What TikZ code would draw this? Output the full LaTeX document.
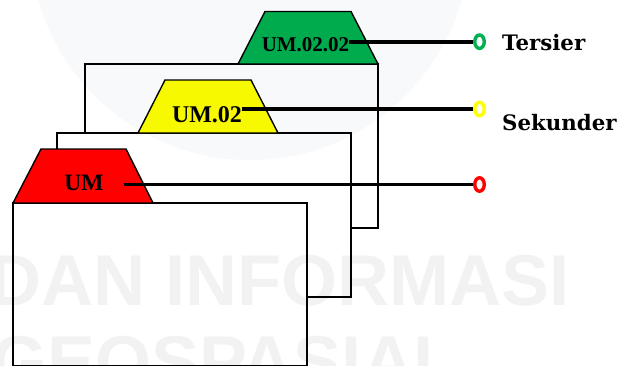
\documentclass[tikz,border=0pt]{standalone}
\usepackage{fontspec}
\usetikzlibrary{shapes.geometric}
\newfontfamily\tabfont{Liberation Serif}
\newfontfamily\sidefont{DejaVu Serif}
\newfontfamily\wordfont{Liberation Sans}
\definecolor{tabgreen}{RGB}{0,176,80}
\definecolor{tabyellow}{RGB}{255,255,0}
\definecolor{tabred}{RGB}{255,0,0}
\definecolor{logotint}{RGB}{196,206,226}
\tikzset{
  page/.style={draw=black, fill=white, line width=1.4pt},
  tab/.style={draw=black, line width=1.4pt},
  tablabel/.style={inner sep=0pt, anchor=base, font=\tabfont\bfseries},
  sidelabel/.style={inner sep=0pt, anchor=base west, font=\sidefont\bfseries\fontsize{21.3}{21.3}\selectfont},
  ring/.style={ellipse, draw=#1, line width=3.4pt, minimum width=9.5pt, minimum height=13.5pt, inner sep=0pt},
  link/.style={draw=black, line width=3.6pt},
  bgword/.style={inner sep=0pt, anchor=base west, text=black, text opacity=0.05,
    font=\wordfont\bfseries\fontsize{72}{72}\selectfont}
}
\begin{document}
\begin{tikzpicture}[x=1pt, y=-1pt]
\useasboundingbox (0,0) rectangle (620,365);
\clip (0,0) rectangle (620,365);

% back page with the tertiary tab
\draw[page] (85,64) rectangle (378,228);
\draw[tab, fill=tabgreen] (238,64) -- (265,11.5) -- (351,11.5) -- (378,64) -- cycle;
\node[tablabel, font=\tabfont\bfseries\fontsize{21}{21}\selectfont] (g) at (305.5,51) {UM.02.02};

% middle page with the secondary tab
\draw[page] (57,133) rectangle (351,297);
\draw[tab, fill=tabyellow] (138,133) -- (165,80) -- (251,80) -- (278,133) -- cycle;
\node[tablabel, font=\tabfont\bfseries\fontsize{24}{24}\selectfont] (y) at (207,122) {UM.02};

% front page with the primary tab
\draw[page] (13,203) rectangle (307,365.5);
\draw[tab, fill=tabred] (13,203) -- (41,149) -- (126,149) -- (153,203) -- cycle;
\node[tablabel, font=\tabfont\bfseries\fontsize{23.5}{23.5}\selectfont] (r) at (84,190) {UM};

% level markers
\node[ring=tabgreen]  (gring) at (479.5,41.7) {};
\node[ring=tabyellow] (yring) at (479.5,109) {};
\node[ring=tabred]    (rring) at (479.5,184.5) {};

\node[sidelabel] (tert) at (502,50.7) {Tersier};
\node[sidelabel] (sek)  at (502,130.7) {Sekunder};

% connectors from the tab labels to the markers
\draw[link] (g.east |- gring) -- (gring.west);
\draw[link] (y.east |- yring) -- (yring.west);
\draw[link] ([xshift=20pt]r.east |- rring) -- (rring.west);

% faint background emblem and lettering
\fill[logotint, opacity=0.12, blend mode=multiply] (250,-60) circle[radius=220];
\node[bgword] (w1) at (-11,305) {DAN INFORMASI};
\node[bgword] (w2) at (-9,386) {GEOSPASIAL};
\end{tikzpicture}
\end{document}
